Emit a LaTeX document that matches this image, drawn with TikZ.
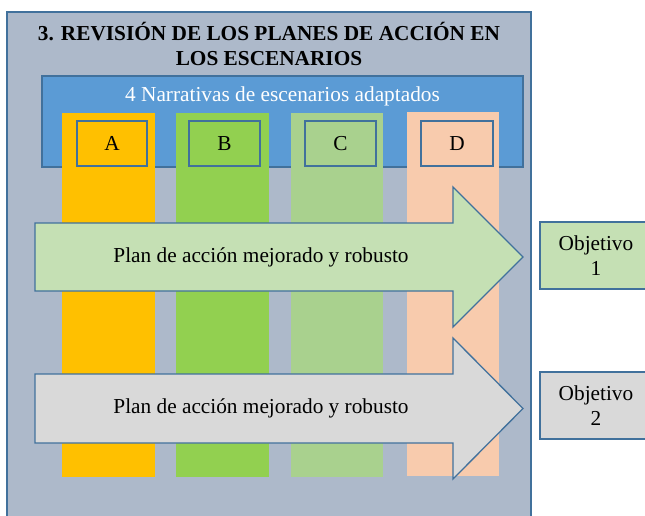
\documentclass[tikz,border=0pt]{standalone}
\usepackage{fontspec}
\setmainfont{Liberation Serif}
\definecolor{outerfill}{HTML}{ADB9CA}
\definecolor{edgeblue}{HTML}{41719C}
\definecolor{boxblue}{HTML}{5B9BD5}
\definecolor{colA}{HTML}{FFC000}
\definecolor{colB}{HTML}{92D050}
\definecolor{colC}{HTML}{A9D18E}
\definecolor{colD}{HTML}{F8CBAD}
\definecolor{lightgreen}{HTML}{C5E0B4}
\definecolor{lightgray}{HTML}{D9D9D9}
\begin{document}
\begin{tikzpicture}[x=1pt,y=-1pt,
  txt/.style={font=\fontsize{21.3}{25}\selectfont, inner sep=0pt},
  column/.style={draw=none},
  letterbox/.style={draw=edgeblue, line width=1.3pt},
  bigarrow/.style={draw=edgeblue, line width=1.3pt, line join=miter},
  objbox/.style={draw=edgeblue, line width=1.3pt}]
\useasboundingbox (0,0) rectangle (645,515);
% outer panel
\fill[outerfill] (7,12) rectangle (531,520);
\draw[edgeblue, line width=1.3pt] (7,520) -- (7,12) -- (531,12) -- (531,520);
\node[txt, font=\fontsize{21.3}{25}\selectfont\bfseries, align=center] (title) at (269,43.5) {3. REVISIÓN DE LOS PLANES DE ACCIÓN EN\\LOS ESCENARIOS};
% blue narrative box
\draw[fill=boxblue, draw=edgeblue, line width=1.3pt] (42,76) rectangle (523,167);
\node[txt, text=white] (narr) at (282.5,96) {4 Narrativas de escenarios adaptados};
% columns
\fill[colA] (62,113) rectangle (155,477);
\fill[colB] (176,113) rectangle (269,477);
\fill[colC] (291,113) rectangle (383,477);
\fill[colD] (407,112) rectangle (499,476);
% letter boxes
\draw[letterbox] (77,121) rectangle (147,166);
\node[txt] (A) at (112,143.5) {A};
\draw[letterbox] (189,121) rectangle (260,166);
\node[txt] (B) at (224.5,143.5) {B};
\draw[letterbox] (305,121) rectangle (376,166);
\node[txt] (C) at (340.5,143.5) {C};
\draw[letterbox] (421,121) rectangle (493,166);
\node[txt] (D) at (457,143.5) {D};
% arrows
\draw[bigarrow, fill=lightgreen] (35,223) -- (453,223) -- (453,187) -- (523,257) -- (453,327) -- (453,291) -- (35,291) -- cycle;
\node[txt] (plan1) at (261,257) {Plan de acción mejorado y robusto};
\draw[bigarrow, fill=lightgray] (35,374) -- (453,374) -- (453,338) -- (523,408.5) -- (453,479) -- (453,443) -- (35,443) -- cycle;
\node[txt] (plan2) at (261,408.5) {Plan de acción mejorado y robusto};
% objectives
\draw[objbox, fill=lightgreen] (540,222) rectangle (652,289);
\node[txt, align=center] (obj1) at (596,255.5) {Objetivo\\1};
\draw[objbox, fill=lightgray] (540,372) rectangle (652,439);
\node[txt, align=center] (obj2) at (596,405.5) {Objetivo\\2};
\end{tikzpicture}
\end{document}
